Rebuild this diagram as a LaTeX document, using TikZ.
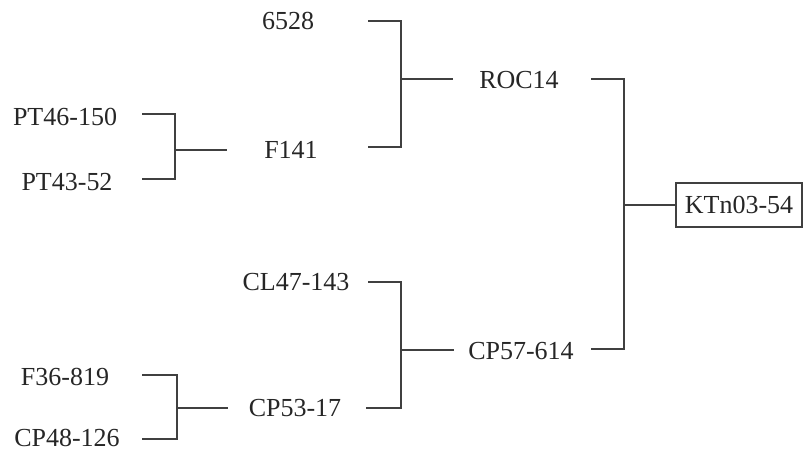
\documentclass[tikz,border=0pt]{standalone}
\usepackage{fontspec}
\setmainfont{Liberation Serif}
\begin{document}
\begin{tikzpicture}[x=1pt,y=-1pt,
  lbl/.style={inner sep=0pt,font=\fontsize{26}{29}\selectfont,text=black!85},
  box/.style={draw=black!75,line width=1.2pt,inner xsep=6pt,minimum height=44pt,minimum width=126pt,font=\fontsize{26}{29}\selectfont,text=black!85},
  ln/.style={draw=black!75,line width=1.4pt}]
\useasboundingbox (0,0) rectangle (804,452);
% labels
\node[lbl] (n6528) at (288,21) {6528};
\node[lbl] (roc) at (519,80) {ROC14};
\node[lbl] (pt46) at (65,117) {PT46-150};
\node[lbl] (f141) at (291,150) {F141};
\node[lbl] (pt43) at (67,182) {PT43-52};
\node[box] (kt) at (739,205) {KTn03-54};
\node[lbl] (cl47) at (296,282) {CL47-143};
\node[lbl] (cp57) at (521,351) {CP57-614};
\node[lbl] (f36) at (65,377) {F36-819};
\node[lbl] (cp53) at (295,408) {CP53-17};
\node[lbl] (cp48) at (67,437.5) {CP48-126};
% line ends
\coordinate (a1) at (368,21);
\coordinate (a2) at (368,147);
\coordinate (ja) at (401,79);
\coordinate (a3) at (453,79);
\coordinate (b1) at (142,114);
\coordinate (b2) at (142,179);
\coordinate (jb) at (175,150);
\coordinate (b3) at (227,150);
\coordinate (c1) at (591,79);
\coordinate (c2) at (591,349);
\coordinate (jc) at (624,205);
\coordinate (d1) at (368,282);
\coordinate (d2) at (366,408);
\coordinate (jd) at (401,350);
\coordinate (d3) at (454,350);
\coordinate (e1) at (142,375);
\coordinate (e2) at (142,439);
\coordinate (je) at (177,408);
\coordinate (e3) at (228,408);
% brackets
\draw[ln] (a1) -| (ja) |- (a2);
\draw[ln] (ja) -- (a3);
\draw[ln] (b1) -| (jb) |- (b2);
\draw[ln] (jb) -- (b3);
\draw[ln] (c1) -| (jc) |- (c2);
\draw[ln] (jc) -- (jc -| kt.west);
\draw[ln] (d1) -| (jd) |- (d2);
\draw[ln] (jd) -- (d3);
\draw[ln] (e1) -| (je) |- (e2);
\draw[ln] (je) -- (e3);
\end{tikzpicture}
\end{document}
